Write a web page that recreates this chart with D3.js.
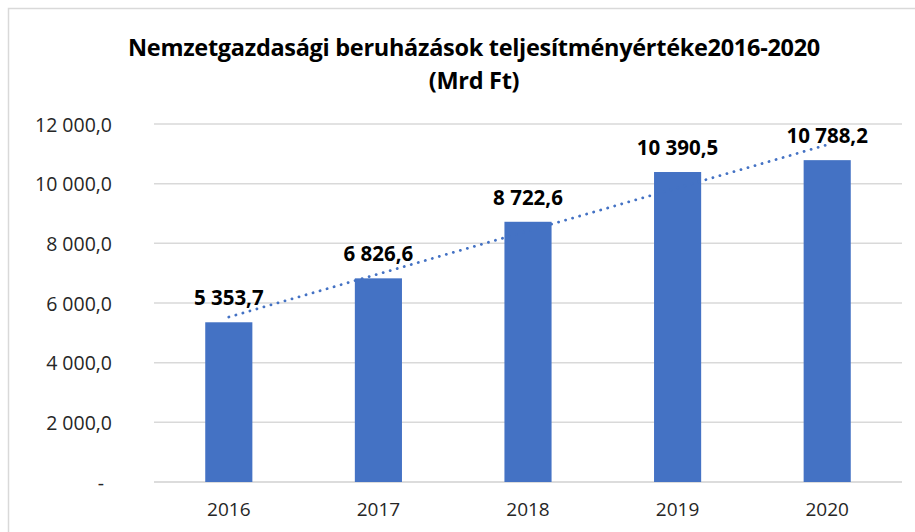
<!DOCTYPE html>
<html>
<head>
  <meta charset="utf-8">
  <title>Nemzetgazdasági beruházások</title>
  <script src="https://cdn.jsdelivr.net/npm/d3@7"></script>
  <style>
    body { margin: 0; background: #ffffff; }
    .title { font-family: "Open Sans", sans-serif; font-weight: bold; font-size: 23.5px; fill: #000; text-anchor: middle; letter-spacing: -0.3px; }
    .ytick text { font-family: "Open Sans", sans-serif; font-size: 19.5px; fill: #262626; }
    .xtick text { font-family: "Open Sans", sans-serif; font-size: 19px; fill: #262626; }
    .label { font-family: "Open Sans", sans-serif; font-weight: bold; font-size: 20.5px; fill: #000; text-anchor: middle; }
  </style>
</head>
<body>
  <script type="text/javascript">
    // Data
    var years = ["2016", "2017", "2018", "2019", "2020"];
    var values = [5353.7, 6826.6, 8722.6, 10390.5, 10788.2];
    var yTicks = [0, 2000, 4000, 6000, 8000, 10000, 12000];
    var titleLines = ["Nemzetgazdasági beruházások teljesítményértéke2016-2020", "(Mrd Ft)"];

    var width = 915;
    var height = 532;
    var svg = d3.select("body").append("svg")
              .attr("width", width)
              .attr("height", height);

    // chart frame
    svg.append("rect")
       .attr("x", 8.5).attr("y", 8.5)
       .attr("width", 940).attr("height", 560)
       .attr("fill", "none")
       .attr("stroke", "#d9d9d9")
       .attr("stroke-width", 1.5);

    // Scales
    var xScale = d3.scaleBand()
                   .domain(years)
                   .range([154, 902])
                   .paddingInner(0.685)
                   .paddingOuter(0.3425);
    var yScale = d3.scaleLinear()
                   .domain([0, 12000])
                   .range([482, 124]);

    // number format: space thousands, comma decimal
    var huLocale = d3.formatLocale({ decimal: ",", thousands: " ", grouping: [3], currency: ["", " Ft"] });
    var fmt = function(d) {
      return d === 0 ? "-" : huLocale.format(",.1f")(d);
    };

    // gridlines
    svg.append("g")
       .selectAll("line")
       .data(yTicks)
       .enter()
       .append("line")
       .attr("x1", 154).attr("x2", 902)
       .attr("y1", function(d) { return yScale(d); })
       .attr("y2", function(d) { return yScale(d); })
       .attr("stroke", function(d) { return d === 0 ? "#d0d0d0" : "#d9d9d9"; })
       .attr("stroke-width", 1.5);

    // y axis labels
    var yAxis = d3.axisLeft(yScale)
                  .tickValues(yTicks)
                  .tickSize(0)
                  .tickPadding(0)
                  .tickFormat(fmt);
    svg.append("g")
       .attr("class", "ytick")
       .attr("transform", "translate(112, 0)")
       .call(yAxis)
       .call(function(g) { g.select(".domain").remove(); })
       .selectAll("text")
       .attr("dy", "0.36em")
       .attr("dx", function(d) { return d === 0 ? "-8" : "0"; });

    // bars
    svg.selectAll("rect.bar")
       .data(values)
       .enter()
       .append("rect")
       .attr("class", "bar")
       .attr("x", function(d, i) { return xScale(years[i]); })
       .attr("y", function(d) { return yScale(d); })
       .attr("width", xScale.bandwidth())
       .attr("height", function(d) { return yScale(0) - yScale(d); })
       .attr("fill", "#4472c4");

    // x axis labels
    var xAxis = d3.axisBottom(xScale).tickSize(0).tickPadding(0);
    svg.append("g")
       .attr("class", "xtick")
       .attr("transform", "translate(0, 509)")
       .call(xAxis)
       .call(function(g) { g.select(".domain").remove(); })
       .selectAll("text")
       .attr("dy", "0.36em");

    // linear trendline
    var xs = values.map(function(d, i) { return i; });
    var mx = d3.mean(xs), my = d3.mean(values);
    var slope = d3.sum(xs, function(x, i) { return (x - mx) * (values[i] - my); }) /
                d3.sum(xs, function(x) { return (x - mx) * (x - mx); });
    var intercept = my - slope * mx;
    var trend = [0, years.length - 1].map(function(i) {
      return [xScale(years[i]) + xScale.bandwidth() / 2, yScale(intercept + slope * i)];
    });
    svg.append("path")
       .attr("d", d3.line()(trend))
       .attr("fill", "none")
       .attr("stroke", "#4472c4")
       .attr("stroke-width", 2.8)
       .attr("stroke-linecap", "round")
       .attr("stroke-dasharray", "0.1 7.2");

    // data labels
    svg.selectAll("text.label")
       .data(values)
       .enter()
       .append("text")
       .attr("class", "label")
       .attr("x", function(d, i) { return xScale(years[i]) + xScale.bandwidth() / 2; })
       .attr("y", function(d) { return yScale(d) - 17; })
       .text(function(d) { return fmt(d); });

    // title
    svg.selectAll("text.title")
       .data(titleLines)
       .enter()
       .append("text")
       .attr("class", "title")
       .attr("x", 474)
       .attr("y", function(d, i) { return 56 + i * 33; })
       .text(function(d) { return d; });
  </script>
</body>
</html>
